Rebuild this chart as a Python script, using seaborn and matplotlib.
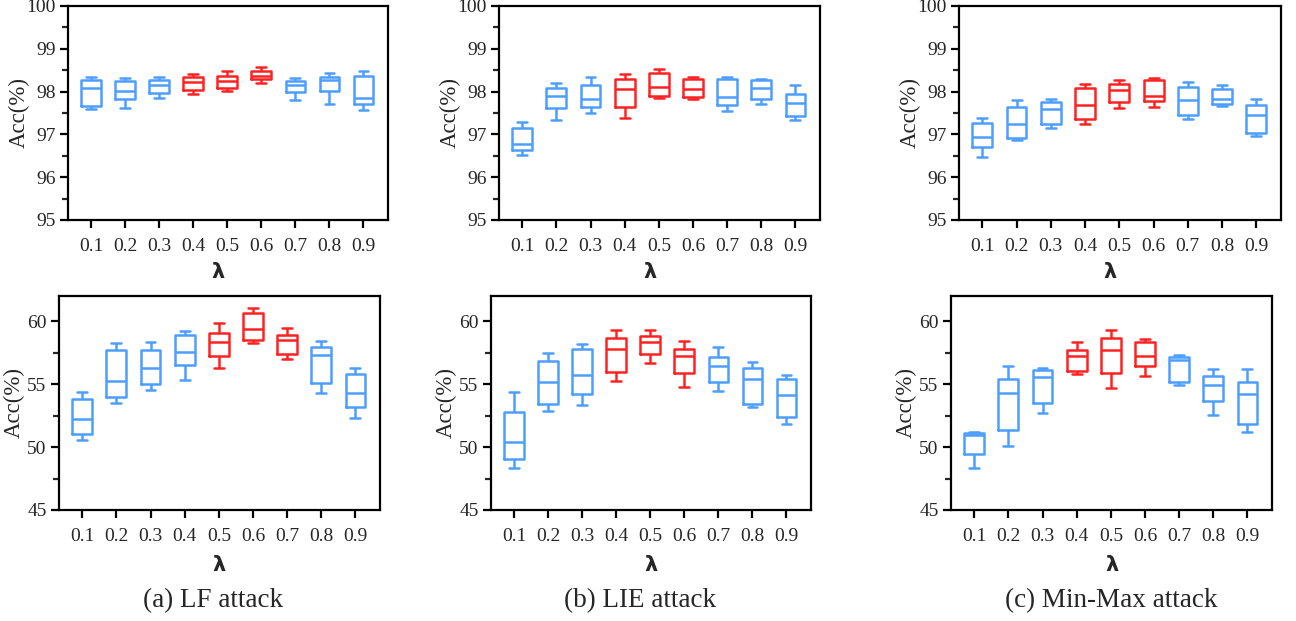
import pandas as pd
import matplotlib
matplotlib.use("Agg")
import matplotlib.pyplot as plt
import seaborn as sns
from matplotlib.ticker import MultipleLocator

# lambda values on the x axis
lams = ['0.1', '0.2', '0.3', '0.4', '0.5', '0.6', '0.7', '0.8', '0.9']

# five-number summaries per box: [min, q1, median, q3, max]
lf_top = [[97.59, 97.66, 98.08, 98.26, 98.33],
          [97.61, 97.82, 98.02, 98.24, 98.31],
          [97.84, 97.96, 98.16, 98.27, 98.33],
          [97.94, 98.04, 98.23, 98.33, 98.41],
          [98.02, 98.08, 98.25, 98.36, 98.48],
          [98.19, 98.29, 98.37, 98.48, 98.57],
          [97.81, 98.00, 98.16, 98.24, 98.31],
          [97.71, 98.01, 98.27, 98.35, 98.43],
          [97.56, 97.71, 97.84, 98.36, 98.47]]
lie_top = [[96.51, 96.63, 96.77, 97.16, 97.29],
           [97.34, 97.61, 97.90, 98.08, 98.21],
           [97.51, 97.65, 97.83, 98.15, 98.33],
           [97.38, 97.65, 98.05, 98.29, 98.41],
           [97.86, 97.90, 98.10, 98.44, 98.53],
           [97.82, 97.88, 98.05, 98.29, 98.33],
           [97.55, 97.68, 97.88, 98.29, 98.35],
           [97.72, 97.83, 98.08, 98.26, 98.30],
           [97.34, 97.42, 97.73, 97.94, 98.16]]
mm_top = [[96.48, 96.71, 96.94, 97.27, 97.38],
          [96.88, 96.92, 97.24, 97.65, 97.81],
          [97.14, 97.24, 97.60, 97.76, 97.82],
          [97.25, 97.36, 97.68, 98.08, 98.18],
          [97.62, 97.75, 98.04, 98.17, 98.26],
          [97.64, 97.77, 97.90, 98.26, 98.32],
          [97.35, 97.45, 97.81, 98.10, 98.23],
          [97.67, 97.72, 97.82, 98.06, 98.15],
          [96.97, 97.03, 97.45, 97.68, 97.83]]
lf_bot = [[50.59, 51.05, 52.19, 53.79, 54.40],
          [53.50, 54.00, 55.28, 57.71, 58.27],
          [54.54, 55.02, 56.30, 57.71, 58.37],
          [55.34, 56.48, 57.55, 58.91, 59.23],
          [56.32, 57.23, 58.32, 59.09, 59.87],
          [58.24, 58.51, 59.39, 60.61, 61.07],
          [56.96, 57.42, 58.48, 58.91, 59.47],
          [54.30, 55.12, 57.31, 57.92, 58.45],
          [52.33, 53.21, 54.32, 55.79, 56.27]]
lie_bot = [[48.30, 49.02, 50.38, 52.75, 54.38],
           [52.83, 53.42, 55.18, 56.80, 57.50],
           [53.31, 54.19, 55.71, 57.76, 58.16],
           [55.28, 55.95, 57.76, 58.69, 59.28],
           [56.70, 57.39, 58.37, 58.83, 59.31],
           [54.78, 55.87, 57.26, 57.76, 58.43],
           [54.43, 55.15, 56.40, 57.15, 57.92],
           [53.15, 53.39, 55.44, 56.27, 56.75],
           [51.82, 52.35, 54.11, 55.39, 55.71]]
mm_bot = [[48.30, 49.48, 50.94, 51.10, 51.23],
          [50.11, 51.39, 54.32, 55.44, 56.43],
          [52.73, 53.53, 55.60, 56.11, 56.27],
          [55.84, 56.08, 57.20, 57.73, 58.35],
          [54.72, 55.90, 57.68, 58.67, 59.28],
          [55.68, 56.43, 57.23, 58.32, 58.59],
          [54.96, 55.18, 56.88, 57.18, 57.31],
          [52.57, 53.66, 54.91, 55.63, 56.22],
          [51.21, 51.87, 54.19, 55.20, 56.22]]

# highlighted (red) lambdas per panel
hl_top = ['0.4', '0.5', '0.6']
hl_lf_bot = ['0.5', '0.6', '0.7']
hl_bot = ['0.4', '0.5', '0.6']

captions = ['(a) LF attack', '(b) LIE attack', '(c) Min-Max attack']

BLUE = '#4d9fff'
RED = '#ff2222'

sns.set_style('white')
plt.rcParams['font.family'] = ['Liberation Serif', 'DejaVu Serif']

W, H = 1296, 621
fig = plt.figure(figsize=(W / 100, H / 100), dpi=100)

panels = [
    (lf_top, hl_top, (68, 388, 6, 220), (95, 100)),
    (lie_top, hl_top, (499, 820, 6, 220), (95, 100)),
    (mm_top, hl_top, (959, 1281, 6, 220), (95, 100)),
    (lf_bot, hl_lf_bot, (59, 380, 296, 510), (45, 62)),
    (lie_bot, hl_bot, (491, 811, 296, 510), (45, 62)),
    (mm_bot, hl_bot, (951, 1272, 296, 510), (45, 62)),
]

for i, (stats, hl, (x0, x1, y0, y1), ylim) in enumerate(panels):
    ax = fig.add_axes([x0 / W, 1 - y1 / H, (x1 - x0) / W, (y1 - y0) / H])
    rows = []
    for lam, s in zip(lams, stats):
        for v in s:
            rows.append({'lam': lam, 'acc': v})
    df = pd.DataFrame(rows)
    pal = {l: (RED if l in hl else BLUE) for l in lams}
    sns.boxplot(data=df, x='lam', y='acc', hue='lam', order=lams, hue_order=lams,
                palette=pal, fill=False, whis=(0, 100), width=0.58,
                linewidth=1.8, legend=False, ax=ax)
    ax.set_xlim(-0.68, 8.72)
    ax.set_ylim(*ylim)
    if i < 3:
        ax.yaxis.set_major_locator(MultipleLocator(1))
        ax.yaxis.set_minor_locator(MultipleLocator(0.5))
    else:
        ax.yaxis.set_major_locator(MultipleLocator(5))
        ax.yaxis.set_minor_locator(MultipleLocator(2.5))
    for sp in ax.spines.values():
        sp.set_visible(True)
        sp.set_color('black')
        sp.set_linewidth(1.6)
    ax.tick_params(axis='both', which='major', direction='out', length=6,
                   width=1.6, labelsize=14, color='black', pad=3,
                   left=True, bottom=True)
    ax.tick_params(axis='y', which='minor', direction='out', length=4,
                   width=1.6, left=True)
    ax.tick_params(axis='x', pad=7)
    ax.set_xlabel('λ', fontsize=15, fontweight='bold', family=['DejaVu Sans'])
    ax.set_ylabel('Acc(%)', fontsize=16.5)
    if i < 3:
        ax.xaxis.set_label_coords(0.47, -0.196)
        ax.yaxis.set_label_coords(-0.118, 0.5)
    else:
        ax.xaxis.set_label_coords(0.5, -0.21)
        ax.yaxis.set_label_coords(-0.108, 0.5)

caption_x = [213, 640, 1111]
for cx, cap in zip(caption_x, captions):
    fig.text(cx / W, 1 - 601 / H, cap, ha='center', va='center', fontsize=19.5)

fig.savefig('out.png', dpi=100)
